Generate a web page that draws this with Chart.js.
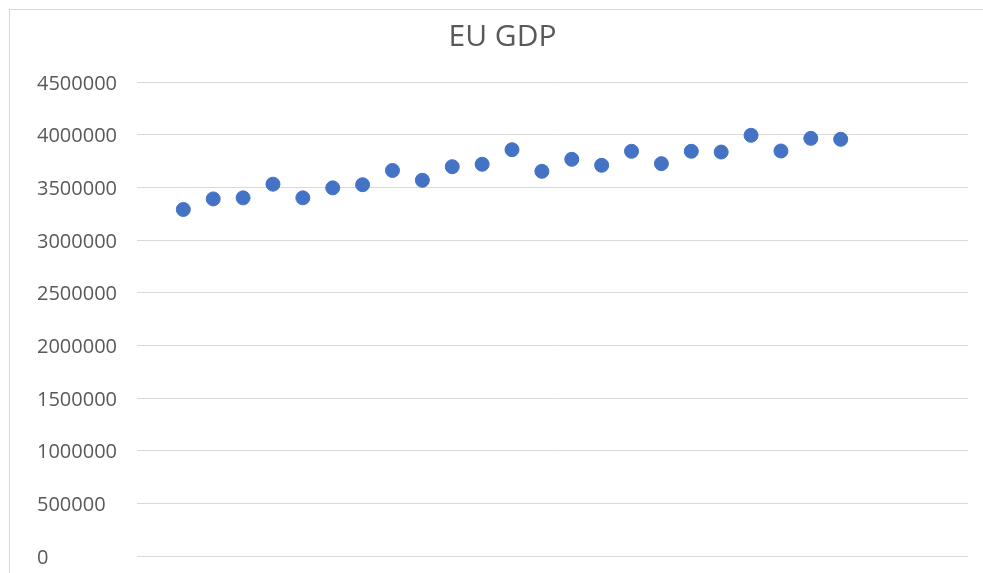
<!DOCTYPE html>
<html>
<head>
<meta charset="utf-8">
<script src="https://cdn.jsdelivr.net/npm/chart.js@4"></script>
<style>
  body { margin: 0; overflow: hidden; background: #fff; }
  #frame { position: absolute; left: 9px; top: 9px; width: 1000px; height: 600px; border: 1px solid #d9d9d9; }
  #wrap { position: absolute; left: 0; top: 0; width: 983px; height: 573px; }
</style>
</head>
<body>
<div id="frame"></div>
<div id="wrap"><canvas id="gdpChart"></canvas></div>
<script>
// EU GDP, one point per period
const periods = [1, 2, 3, 4, 5, 6, 7, 8, 9, 10, 11, 12, 13, 14, 15, 16, 17, 18, 19, 20, 21, 22, 23];
const gdp = [3290000, 3390000, 3400000, 3530000, 3400000, 3495000, 3525000, 3660000, 3567000, 3696000,
             3719000, 3857000, 3652000, 3766000, 3709000, 3842000, 3725000, 3842000, 3835000, 3994000,
             3845000, 3965000, 3956000];
const yTicks = [0, 500000, 1000000, 1500000, 2000000, 2500000, 3000000, 3500000, 4000000, 4500000];

const points = periods.map((p, i) => ({ x: p, y: gdp[i] }));

const ctx = document.getElementById('gdpChart').getContext('2d');
const gdpChart = new Chart(ctx, {
    type: 'scatter',
    data: {
        datasets: [{
            label: 'EU GDP',
            data: points,
            backgroundColor: '#4472C4',
            borderColor: '#4472C4',
            borderWidth: 1,
            pointRadius: 7,
            pointHoverRadius: 7
        }]
    },
    options: {
        responsive: true,
        maintainAspectRatio: false,
        animation: false,
        layout: { padding: { left: 37, right: 15, top: 0, bottom: 17 } },
        plugins: {
            legend: { display: false },
            tooltip: { enabled: false },
            title: {
                display: true,
                text: 'EU GDP',
                color: '#595959',
                font: { family: 'Open Sans', size: 30, weight: 'normal', lineHeight: 1.2 },
                padding: { top: 19, bottom: 27 }
            }
        },
        scales: {
            x: {
                type: 'linear',
                display: false,
                min: -0.55,
                max: 27.26
            },
            y: {
                min: 0,
                max: 4500000,
                afterBuildTicks: function (scale) {
                    scale.ticks = yTicks.map(v => ({ value: v }));
                },
                afterFit: function (scale) {
                    scale.width = 100;
                },
                border: { display: false },
                grid: { color: '#d9d9d9', lineWidth: 1, drawTicks: false },
                ticks: {
                    color: '#595959',
                    font: { family: 'Open Sans', size: 20 },
                    crossAlign: 'far',
                    padding: 0,
                    labelOffset: 2,
                    callback: function (value) { return String(value); }
                }
            }
        }
    }
});
</script>
</body>
</html>
